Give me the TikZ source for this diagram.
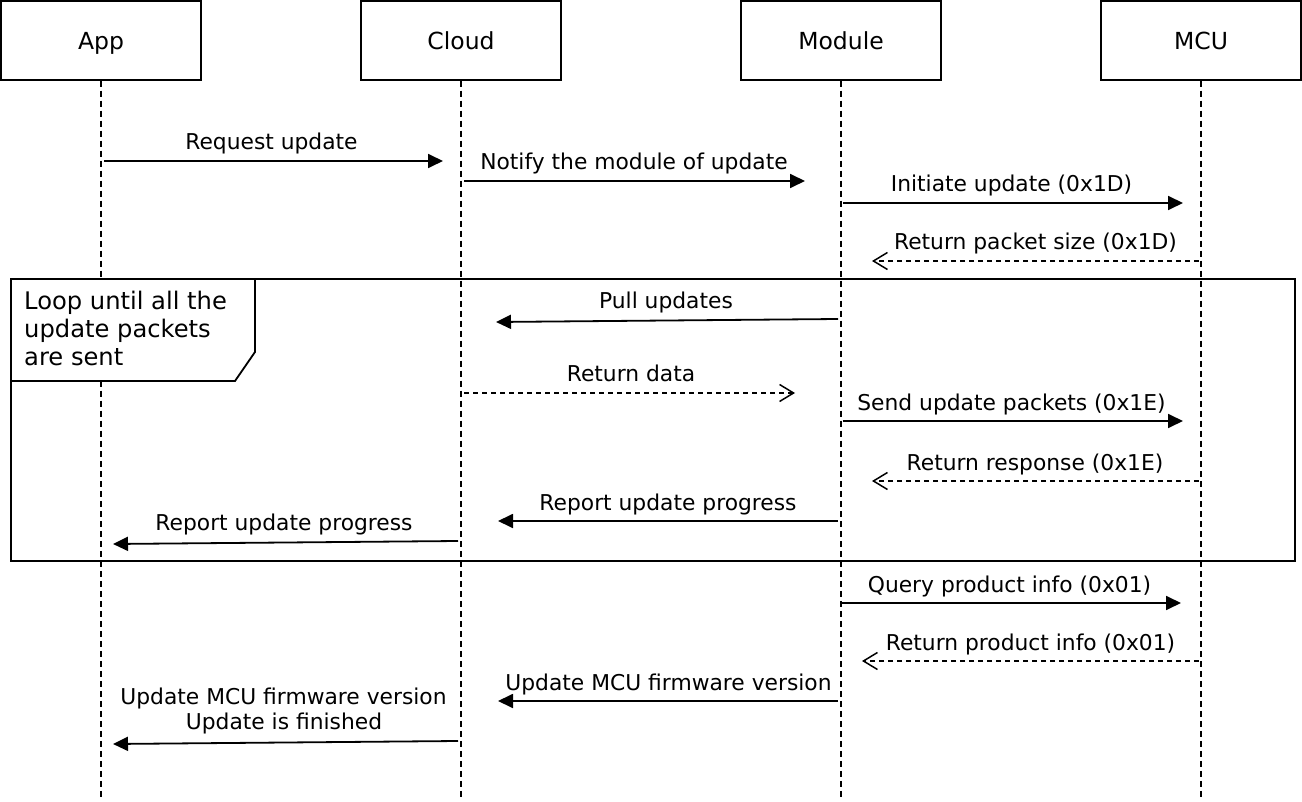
\documentclass[tikz,border=0pt]{standalone}
\usepackage{fontspec}
\setmainfont{DejaVu Sans}
\usetikzlibrary{arrows.meta}
\begin{document}
\begin{tikzpicture}[x=1pt,y=-1pt,
  actor/.style={draw,line width=1.5pt,minimum width=200pt,minimum height=79pt,inner sep=0pt,
    font=\fontsize{23.5}{27}\selectfont,text height=19pt,text depth=0pt},
  life/.style={line width=1.5pt,dash pattern=on 6pt off 4pt},
  msg/.style={line width=1.8pt,-{Triangle[length=15pt,width=14pt]}},
  ret/.style={line width=1.4pt,dash pattern=on 5pt off 4pt,-{Straight Barb[length=14pt,width=17pt,line width=1.5pt]}},
  lbl/.style={anchor=base,inner sep=0pt,font=\fontsize{21.8}{26}\selectfont},
  frame/.style={draw,line width=1.8pt}]
\useasboundingbox (0,0) rectangle (1302,802);
% actors
\node[actor] (app) at (101,40.5) {App};
\node[actor] (cloud) at (461,40.5) {Cloud};
\node[actor] (module) at (841,40.5) {Module};
\node[actor] (mcu) at (1201,40.5) {MCU};
% lifelines
\foreach \n in {app,cloud,module,mcu}
  \draw[life] (\n.south) -- (\n.south |- 0,797);
% loop frame
\draw[frame] (11,279) rectangle (1295,561);
\draw[frame,fill=white] (11,279) -- (255,279) -- (255,352) -- (235,381) -- (11,381) -- cycle;
\node[anchor=north west,inner sep=0pt,align=left,font=\fontsize{24.2}{28}\selectfont] (looplbl) at (24,291)
  {Loop until all the\\update packets\\are sent};
% message end points
\coordinate (m1a) at (104,161);  \coordinate (m1b) at (443,161);
\coordinate (m2a) at (464,181);  \coordinate (m2b) at (805,181);
\coordinate (m3a) at (843,203);  \coordinate (m3b) at (1183,203);
\coordinate (m4a) at (1199,261); \coordinate (m4b) at (872,261);
\coordinate (m5a) at (838,319);  \coordinate (m5b) at (496,322);
\coordinate (m6a) at (464,393);  \coordinate (m6b) at (795,393);
\coordinate (m7a) at (843,421);  \coordinate (m7b) at (1183,421);
\coordinate (m8a) at (1199,481); \coordinate (m8b) at (872,481);
\coordinate (m9a) at (838,521);  \coordinate (m9b) at (498,521);
\coordinate (m10a) at (458,541); \coordinate (m10b) at (113,544);
\coordinate (m11a) at (841,603); \coordinate (m11b) at (1181,603);
\coordinate (m12a) at (1199,661); \coordinate (m12b) at (862,661);
\coordinate (m13a) at (838,701); \coordinate (m13b) at (498,701);
\coordinate (m14a) at (458,741); \coordinate (m14b) at (113,744);
% messages
\draw[msg] (m1a) -- (m1b);
\draw[msg] (m2a) -- (m2b);
\draw[msg] (m3a) -- (m3b);
\draw[ret] (m4a) -- (m4b);
\draw[msg] (m5a) -- (m5b);
\draw[ret] (m6a) -- (m6b);
\draw[msg] (m7a) -- (m7b);
\draw[ret] (m8a) -- (m8b);
\draw[msg] (m9a) -- (m9b);
\draw[msg] (m10a) -- (m10b);
\draw[msg] (m11a) -- (m11b);
\draw[ret] (m12a) -- (m12b);
\draw[msg] (m13a) -- (m13b);
\draw[msg] (m14a) -- (m14b);
% labels
\node[lbl] (l1) at (271.5,150) {Request update};
\node[lbl] (l2) at (634,170) {Notify the module of update};
\node[lbl] (l3) at (1011.5,192) {Initiate update (0x1D)};
\node[lbl] (l4) at (1035.5,250) {Return packet size (0x1D)};
\node[lbl] (l5) at (666,309) {Pull updates};
\node[lbl] (l6) at (631,382) {Return data};
\node[lbl] (l7) at (1011.5,410) {Send update packets (0x1E)};
\node[lbl] (l8) at (1035,470) {Return response (0x1E)};
\node[lbl] (l9) at (668,510) {Report update progress};
\node[lbl] (l10) at (284,530) {Report update progress};
\node[lbl] (l11) at (1009.5,592) {Query product info (0x01)};
\node[lbl] (l12) at (1030.5,650) {Return product info (0x01)};
\node[lbl] (l13) at (668.5,690) {Update MCU firmware version};
\node[lbl] (l14a) at (283.5,704) {Update MCU firmware version};
\node[lbl] (l14b) at (284,729) {Update is finished};
\end{tikzpicture}
\end{document}
